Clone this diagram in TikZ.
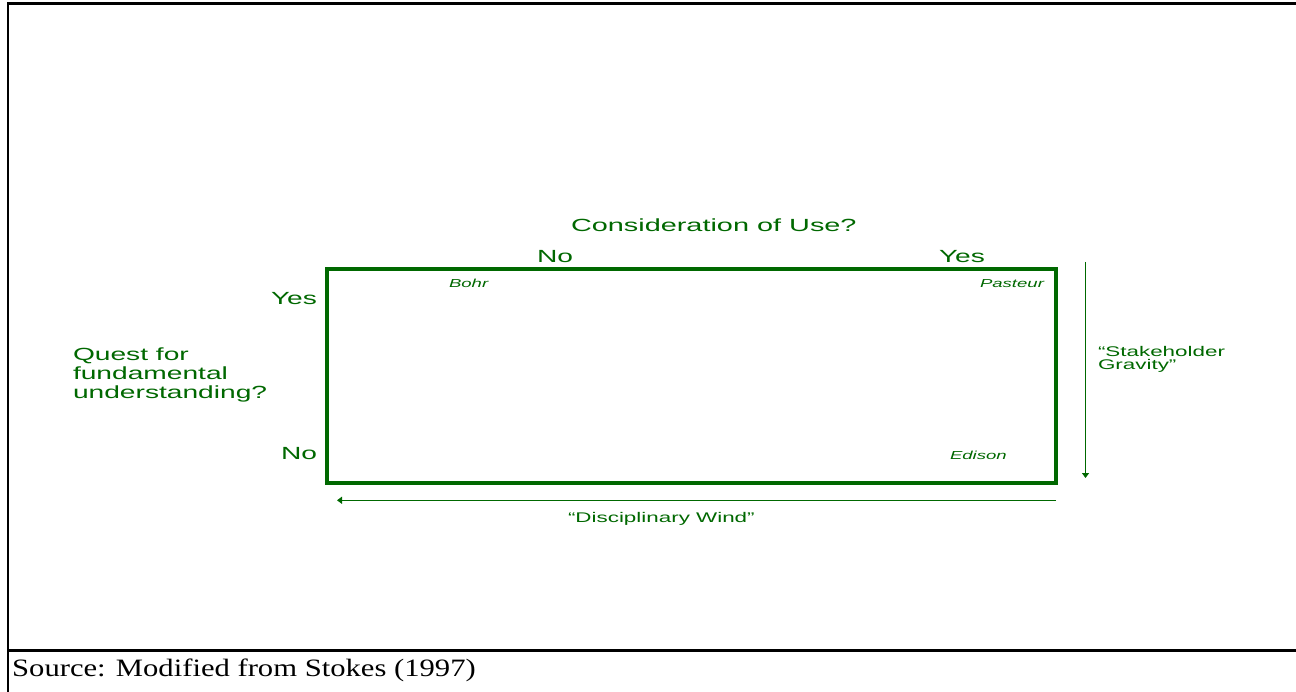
\documentclass[tikz,border=0pt]{standalone}
\usepackage{fontspec}
\setmainfont{Liberation Serif}
\setsansfont{Liberation Sans}
\usetikzlibrary{arrows.meta}
\definecolor{quadgreen}{RGB}{0,104,0}
\newcommand{\wide}[2][1.6]{\scalebox{#1}[1]{#2}}
\begin{document}
\begin{tikzpicture}[x=1pt,y=-1pt,
  lbl/.style={inner sep=0pt,outer sep=0pt,anchor=base west,text=quadgreen,font=\sffamily},
  big/.style={lbl,font=\sffamily\fontsize{17.6}{19.3}\selectfont},
  small/.style={lbl,font=\sffamily\itshape\fontsize{11.6}{13}\selectfont},
  mid/.style={lbl,font=\sffamily\fontsize{14}{12.6}\selectfont},
  flow/.style={draw=quadgreen,line width=1.3pt,-{Triangle[length=5pt,width=7pt]}},
  rule/.style={draw=black,line width=2.4pt}]
% page and outer frame
\useasboundingbox (0,0) rectangle (1296,692);
\fill[white] (0,0) rectangle (1296,692);
\coordinate (ftl) at (8,3.5);
\coordinate (ftr) at (1296,3.5);
\coordinate (fbl) at (8,692);
\coordinate (sl) at (8,650.5);
\coordinate (sr) at (1296,650.5);
\draw[rule] (ftr) -- (ftl) -- (fbl);
\draw[rule] (sl) -- (sr);
\node[inner sep=0pt,anchor=base west,font=\fontsize{25}{28}\selectfont] (src) at (12,676)
  {\scalebox{1.225}[1]{Source: Modified from Stokes (1997)}};

% the quadrant
\node[draw=quadgreen,line width=4pt,minimum width=729pt,minimum height=214pt,inner sep=0pt] (quad)
  at (691.5,376.4) {};
\node[small] (bohr) at (449,288) {\wide{Bohr}};
\node[small] (pasteur) at (980,288) {\wide{Pasteur}};
\node[small] (edison) at (950,459.5) {\wide{Edison}};

% axis labels
\node[big] (use) at (571,231.7) {\wide[1.64]{Consideration of Use?}};
\node[big] (notop) at (537,262.3) {\wide{No}};
\node[big] (yestop) at (939,262.7) {\wide{Yes}};
\node[big] (yesleft) at (271,305) {\wide{Yes}};
\node[big] (noleft) at (281,459) {\wide{No}};
\node[big,align=left] (quest) at (73,399)
  {\wide{Quest for}\\\wide{fundamental}\\\wide{understanding?}};

% forces
\coordinate (gtop) at (1085.5,262);
\coordinate (gbot) at (1085.5,478);
\draw[flow] (gtop) -- (gbot);
\node[mid,align=left] (gravity) at (1098,369.3)
  {\wide{``Stakeholder}\\\wide{Gravity''}};
\coordinate (wright) at (1056,500.3);
\coordinate (wleft) at (337,500.3);
\draw[flow] (wright) -- (wleft);
\node[mid] (wind) at (568,522.7) {\wide{``Disciplinary Wind''}};
\end{tikzpicture}
\end{document}
